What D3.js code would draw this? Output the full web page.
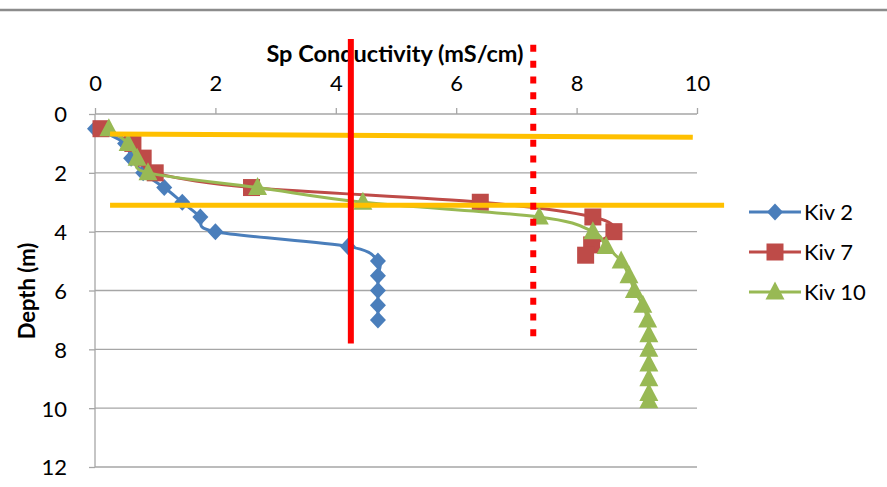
<!DOCTYPE html>
<html><head><meta charset="utf-8">
<script src="https://cdn.jsdelivr.net/npm/d3@7"></script>
<style>body{margin:0;background:#fff}svg{display:block}text{font-family:Lato,"Open Sans",sans-serif;fill:#000}</style>
</head><body>
<svg id="c" width="887" height="487"></svg>
<script>
const xTicks=[0,2,4,6,8,10];
const yTicks=[0,2,4,6,8,10,12];
const seriesNames=["Kiv 2","Kiv 7","Kiv 10"];
const kiv2Depth=[0.5,1,1.5,2,2.5,3,3.5,4,4.5,5,5.5,6,6.5,7];
const kiv2Cond=[0.0,0.5,0.6,0.8,1.15,1.45,1.75,2.0,4.2,4.7,4.7,4.7,4.7,4.7];
const kiv7Depth=[0.5,1,1.5,2,2.5,3,3.5,4,4.45,4.8];
const kiv7Cond=[0.1,0.63,0.8,1.0,2.6,6.4,8.27,8.62,8.25,8.15];
const kiv10Depth=[0.5,1,1.5,2,2.5,3,3.5,4,4.5,5,5.5,6,6.5,7,7.5,8,8.5,9,9.5,9.75];
const kiv10Cond=[0.23,0.55,0.7,0.88,2.7,4.45,7.38,8.27,8.49,8.74,8.87,8.96,9.1,9.18,9.2,9.2,9.2,9.2,9.2,9.2];
// reference lines: [cond1, depth1, cond2, depth2]
const redSolid=[4.25,-2.55,4.25,7.8];
const redDotted=[7.28,-2.35,7.28,7.8];
const orangeUpper=[0.25,0.68,9.93,0.79];
const orangeLower=[0.25,3.1,10.45,3.1];

const svg=d3.select("#c");
const x=d3.scaleLinear().domain([0,10]).range([95,697]);
const y=d3.scaleLinear().domain([0,12]).range([114,467]);
const grid="#a6a6a6";

svg.append("line").attr("x1",0).attr("x2",887).attr("y1",10).attr("y2",10).attr("stroke","#8c8c8c").attr("stroke-width",2.5);

// gridlines
svg.append("g").selectAll("line").data(yTicks.filter(d=>d>0)).join("line")
 .attr("x1",x(0)).attr("x2",x(10)).attr("y1",d=>y(d)).attr("y2",d=>y(d))
 .attr("stroke",grid).attr("stroke-width",1.3);

// axes
const gx=svg.append("g").attr("transform",`translate(0,${y(0)})`)
 .call(d3.axisTop(x).tickValues(xTicks).tickSize(6).tickPadding(17));
const gy=svg.append("g").attr("transform",`translate(${x(0)},0)`)
 .call(d3.axisLeft(y).tickValues(yTicks).tickSize(6).tickPadding(22));
[gx,gy].forEach(g=>{
  g.selectAll("path,line").attr("stroke",grid).attr("stroke-width",1.3);
  g.selectAll("text").style("font-size","22px").style("font-family","Lato,sans-serif").attr("fill","#000");
});
gx.select(".domain").attr("d",`M${x(0)},0H${x(10)}`);
gy.select(".domain").attr("d",`M0,${y(0)}V${y(12)}`);
gy.selectAll(".tick text").attr("dy","0.36em");

svg.append("text").attr("x",395).attr("y",62).attr("text-anchor","middle")
 .style("font-weight","bold").style("font-size","23.5px").text("Sp Conductivity (mS/cm)");
svg.append("text").attr("transform","translate(35,291) rotate(-90)").attr("text-anchor","middle")
 .style("font-weight","bold").style("font-size","22px").text("Depth (m)");

const colors=["#4a7ebb","#be4b48","#98b954"];
const data=[
  kiv2Depth.map((d,i)=>[kiv2Cond[i],d]),
  kiv7Depth.map((d,i)=>[kiv7Cond[i],d]),
  kiv10Depth.map((d,i)=>[kiv10Cond[i],d])
];
const line=d3.line().x(d=>x(d[0])).y(d=>y(d[1])).curve(d3.curveCatmullRom.alpha(0));
function marker(g,i,px,py){
  if(i===0){
    g.append("path").attr("d",`M${px},${py-8.5}L${px+8},${py}L${px},${py+8.5}L${px-8},${py}Z`).attr("fill",colors[0]);
  } else if(i===1){
    g.append("rect").attr("x",px-8.5).attr("y",py-8.5).attr("width",17).attr("height",17).attr("fill",colors[1]);
  } else {
    g.append("path").attr("d",`M${px},${py-10.5}L${px+9.5},${py+7.5}L${px-9.5},${py+7.5}Z`).attr("fill",colors[2]);
  }
}
data.forEach((s,i)=>{
  const g=svg.append("g");
  g.append("path").datum(s).attr("d",line).attr("fill","none").attr("stroke",colors[i]).attr("stroke-width",3);
  s.forEach(p=>marker(g,i,x(p[0]),y(p[1])));
});

// reference lines
function refLine(a,color,w,dash){
  const l=svg.append("line").attr("x1",x(a[0])).attr("y1",y(a[1])).attr("x2",x(a[2])).attr("y2",y(a[3]))
   .attr("stroke",color).attr("stroke-width",w);
  if(dash) l.attr("stroke-dasharray",dash);
}
refLine(orangeUpper,"#ffc000",5);
refLine(orangeLower,"#ffc000",5);
refLine(redSolid,"#ff0000",6);
refLine(redDotted,"#ff0000",6,"7,8.8");

// legend
const lg=svg.append("g");
seriesNames.forEach((n,i)=>{
  const yy=212+i*40;
  lg.append("line").attr("x1",749).attr("x2",801).attr("y1",yy).attr("y2",yy).attr("stroke",colors[i]).attr("stroke-width",3);
  marker(lg,i,775,yy);
  lg.append("text").attr("x",804).attr("y",yy).attr("dy","0.36em").style("font-size","22px").text(n);
});
</script>
</body></html>
